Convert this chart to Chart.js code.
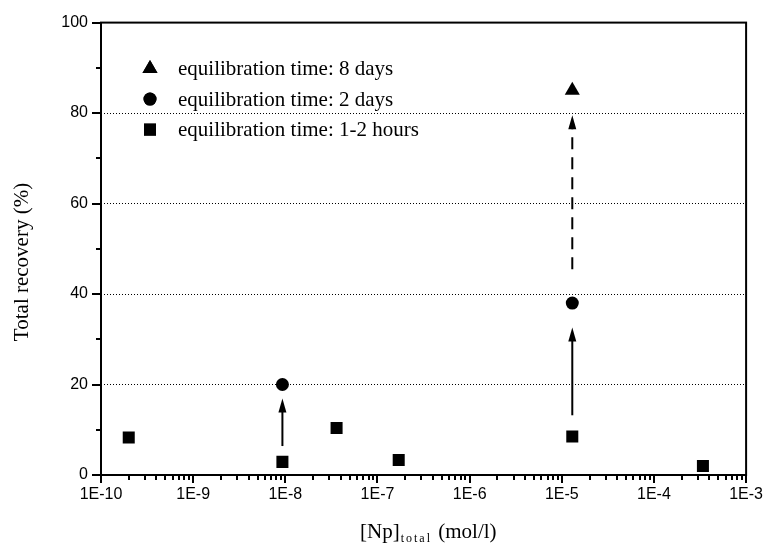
<!DOCTYPE html>
<html>
<head>
<meta charset="utf-8">
<title>Total recovery vs [Np]total</title>
<script src="https://cdn.jsdelivr.net/npm/chart.js@4/dist/chart.umd.min.js"></script>
<style>
  html, body { margin: 0; padding: 0; background: #fff; }
  canvas { display: block; }
</style>
</head>
<body>
<canvas id="recoveryChart" width="773" height="545"></canvas>
<script>
// values
const seriesLabels = ['equilibration time: 8 days', 'equilibration time: 2 days', 'equilibration time: 1-2 hours'];

const npTriangles = [1.3e-5];
const recTriangles = [85];

const npCircles = [9.3e-9, 1.3e-5];
const recCircles = [20, 38];

const npSquares = [2.0e-10, 9.3e-9, 3.6e-8, 1.7e-7, 1.3e-5, 3.4e-4];
const recSquares = [8.3, 2.9, 10.4, 3.3, 8.5, 2.0];

// arrows between the series
const arrowNp = [9.3e-9, 1.3e-5, 1.3e-5];
const arrowFrom = [6.4, 13.2, 45.5];
const arrowTo = [16.9, 32.6, 79.5];
const arrowDashed = [false, false, true];

const yMajorTicks = [0, 20, 40, 60, 80, 100];

const toPoints = (xs, ys) => xs.map((v, i) => ({ x: v, y: ys[i] }));

// Ticks, frame, arrows, legend and titles
const decorations = {
    id: 'decorations',
    afterDraw(chart) {
        const { ctx, chartArea: a, scales: { x, y } } = chart;
        ctx.save();
        ctx.strokeStyle = '#000';
        ctx.fillStyle = '#000';

        // frame
        ctx.lineWidth = 2;
        ctx.strokeRect(a.left, a.top, a.right - a.left, a.bottom - a.top);

        // tick marks
        ctx.beginPath();
        for (let v = 0; v <= 100; v += 10) {
            const py = Math.round(y.getPixelForValue(v));
            const len = yMajorTicks.includes(v) ? 9 : 5;
            ctx.moveTo(a.left - len, py);
            ctx.lineTo(a.left, py);
        }
        for (let e = -10; e <= -3; e++) {
            for (let m = 1; m <= 9; m++) {
                if (e === -3 && m > 1) break;
                const px = Math.round(x.getPixelForValue(m * Math.pow(10, e)));
                const len = m === 1 ? 8 : 5;
                ctx.moveTo(px, a.bottom);
                ctx.lineTo(px, a.bottom + len);
            }
        }
        ctx.stroke();

        // arrows
        arrowNp.forEach((nv, i) => {
            const px = x.getPixelForValue(nv);
            const y0 = y.getPixelForValue(arrowFrom[i]);
            const y1 = y.getPixelForValue(arrowTo[i]);
            ctx.lineWidth = 2;
            ctx.setLineDash(arrowDashed[i] ? [12, 8] : []);
            ctx.beginPath();
            ctx.moveTo(px, y0);
            ctx.lineTo(px, y1 + 10);
            ctx.stroke();
            ctx.setLineDash([]);
            ctx.beginPath();
            ctx.moveTo(px, y1);
            ctx.lineTo(px - 4, y1 + 14);
            ctx.lineTo(px + 4, y1 + 14);
            ctx.closePath();
            ctx.fill();
        });

        // legend
        ctx.font = '21px "Liberation Serif", "Times New Roman", serif';
        ctx.textAlign = 'left';
        ctx.textBaseline = 'middle';
        chart.data.datasets.forEach((ds, i) => {
            const mx = a.left + 49;
            const my = a.top + 46 + i * 30.5;
            Chart.helpers.drawPoint(ctx, {
                pointStyle: ds.pointStyle,
                radius: ds.pointRadius,
                borderWidth: 0,
                rotation: 0
            }, mx, my);
            ctx.fill();
            ctx.fillText(ds.label, a.left + 77, my + 1);
        });

        // y title
        ctx.save();
        ctx.translate(22, 262);
        ctx.rotate(-Math.PI / 2);
        ctx.textAlign = 'center';
        ctx.fillText('Total recovery (%)', 0, 0);
        ctx.restore();

        // x title with subscript
        ctx.textBaseline = 'alphabetic';
        let tx = 360;
        const base = 538;
        ctx.font = '21px "Liberation Serif", "Times New Roman", serif';
        ctx.fillText('[Np]', tx, base);
        tx += ctx.measureText('[Np]').width + 1;
        ctx.font = '12px "Liberation Serif", "Times New Roman", serif';
        ctx.letterSpacing = '2px';
        ctx.fillText('total', tx, base + 4);
        tx += ctx.measureText('total').width + 1;
        ctx.letterSpacing = '0px';
        ctx.font = '21px "Liberation Serif", "Times New Roman", serif';
        ctx.fillText(' (mol/l)', tx, base);

        ctx.restore();
    }
};

const recoveryCtx = document.getElementById('recoveryChart').getContext('2d');
const recoveryChart = new Chart(recoveryCtx, {
    type: 'scatter',
    data: {
        datasets: [
            {
                label: seriesLabels[0],
                data: toPoints(npTriangles, recTriangles),
                pointStyle: 'triangle',
                pointRadius: 8.7,
                backgroundColor: '#000',
                borderColor: '#000',
                borderWidth: 0
            },
            {
                label: seriesLabels[1],
                data: toPoints(npCircles, recCircles),
                pointStyle: 'circle',
                pointRadius: 6.5,
                backgroundColor: '#000',
                borderColor: '#000',
                borderWidth: 0
            },
            {
                label: seriesLabels[2],
                data: toPoints(npSquares, recSquares),
                pointStyle: 'rect',
                pointRadius: 8.5,
                backgroundColor: '#000',
                borderColor: '#000',
                borderWidth: 0
            }
        ]
    },
    options: {
        responsive: false,
        animation: false,
        devicePixelRatio: 1,
        layout: { padding: { top: 22, right: 21, left: 0, bottom: 0 } },
        plugins: {
            legend: { display: false },
            tooltip: { enabled: false }
        },
        scales: {
            x: {
                type: 'logarithmic',
                min: 1e-10,
                max: 1e-3,
                afterFit: s => { s.height = 70; },
                afterBuildTicks: s => {
                    const t = [];
                    for (let e = -10; e <= -3; e++) t.push({ value: Math.pow(10, e) });
                    s.ticks = t;
                },
                grid: { display: false, drawTicks: false },
                border: { display: false },
                ticks: {
                    color: '#000',
                    padding: 10,
                    maxRotation: 0,
                    autoSkip: false,
                    font: { family: '"Liberation Sans", Arial, sans-serif', size: 16 },
                    callback: v => '1E' + Math.round(Math.log10(v))
                }
            },
            y: {
                min: 0,
                max: 100,
                afterFit: s => { s.width = 101; },
                ticks: {
                    stepSize: 20,
                    color: '#000',
                    padding: 13,
                    font: { family: '"Liberation Sans", Arial, sans-serif', size: 16 }
                },
                grid: {
                    drawTicks: false,
                    lineWidth: 1,
                    color: c => (c.tick && c.tick.value > 0 && c.tick.value < 100) ? '#000' : 'rgba(0,0,0,0)'
                },
                border: { display: false, dash: [1, 2] }
            }
        }
    },
    plugins: [decorations]
});
</script>
</body>
</html>
